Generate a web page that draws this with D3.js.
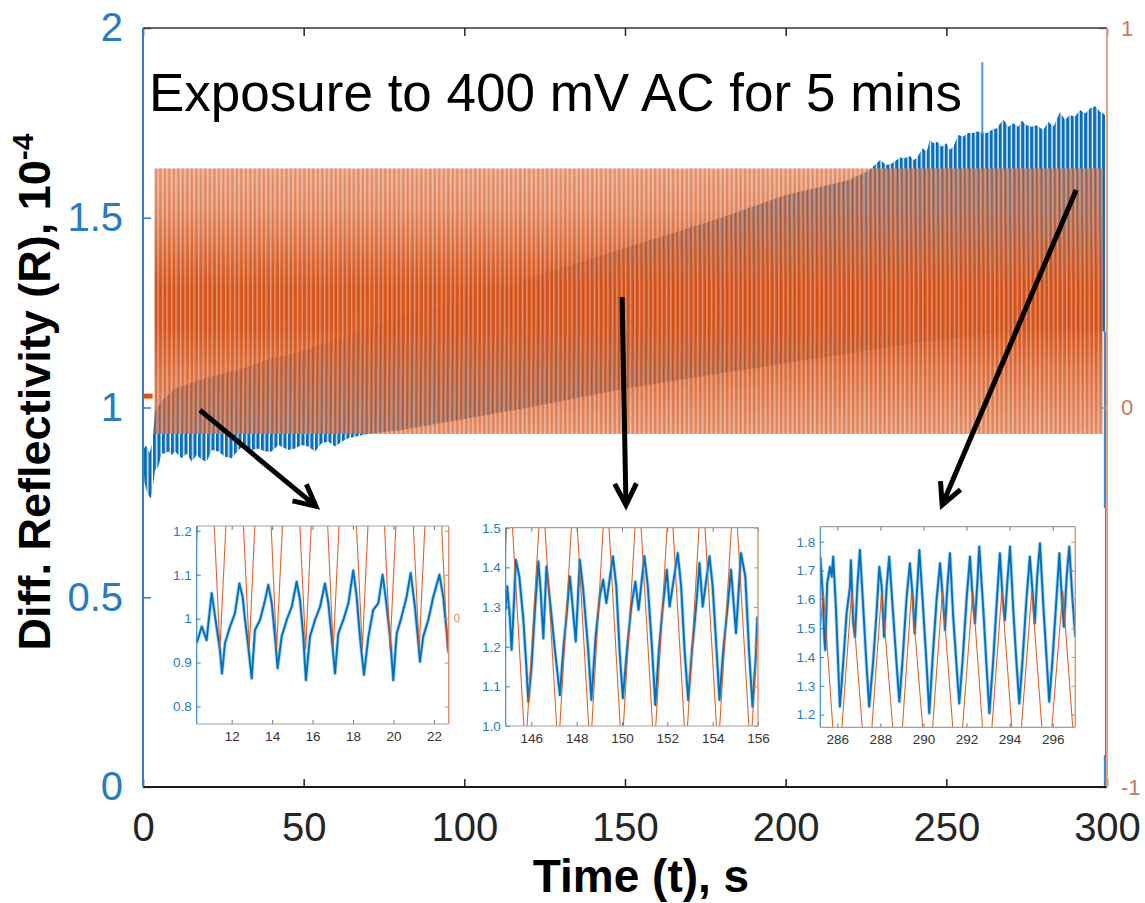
<!DOCTYPE html>
<html>
<head>
<meta charset="utf-8">
<script src="https://cdn.jsdelivr.net/npm/d3@7"></script>
<style>
  body { margin: 0; background: #fff; }
  svg { display: block; font-family: "Liberation Sans", Arial, sans-serif; }
</style>
</head>
<body>
<div id="viz"></div>
<script>
const width = 1145;
const height = 903;

// ---- data ----
const timeTicks = [0, 50, 100, 150, 200, 250, 300];
const reflTicks = [0, 0.5, 1, 1.5, 2];
const driveTicks = [-1, 0, 1];

// blue reflectivity envelope (t [s], R [1e-4])
const blueUpper = [[0,0.89],[1,0.90],[2,0.88],[3,0.91],[3.7,0.99],[6,1.02],[10,1.05],[20,1.08],[30,1.10],[40,1.13],[50,1.15],[60,1.18],[70,1.21],[80,1.24],[90,1.26],[100,1.29],[110,1.31],[120,1.34],[135,1.38],[150,1.42],[165,1.46],[180,1.50],[190,1.53],[200,1.56],[210,1.58],[220,1.60],[226,1.625],[229.4,1.652],[231.4,1.639],[233.0,1.643],[235.6,1.659],[237.1,1.657],[238.7,1.663],[239.7,1.652],[240.8,1.657],[242.6,1.683],[243.9,1.674],[244.9,1.707],[245.9,1.696],[247.2,1.700],[248.5,1.687],[250.1,1.696],[251.1,1.679],[252.2,1.687],[253.7,1.718],[255.3,1.714],[256.8,1.723],[258.4,1.723],[259.4,1.727],[262.6,1.723],[264.1,1.731],[265.7,1.736],[267.7,1.759],[269.3,1.740],[270.8,1.749],[272.4,1.740],[273.4,1.756],[275.0,1.744],[276.6,1.740],[278.1,1.744],[280.2,1.731],[281.7,1.753],[283.3,1.740],[285.4,1.779],[286.9,1.758],[288.5,1.771],[290.0,1.766],[291.6,1.784],[293.2,1.775],[294.7,1.788],[296.3,1.794],[297.8,1.779],[298.9,1.775],[299.4,1.77]];
const blueLower = [[0,0.86],[0.5,0.80],[1.5,0.77],[2.5,0.76],[3.2,0.80],[3.73,0.835],[4.77,0.844],[5.81,0.879],[6.85,0.879],[7.88,0.884],[8.92,0.875],[9.96,0.884],[12.03,0.866],[13.59,0.879],[15.14,0.857],[16.70,0.875],[18.26,0.862],[19.81,0.857],[21.37,0.888],[23.44,0.884],[25.52,0.870],[27.59,0.866],[29.67,0.888],[31.74,0.901],[33.82,0.888],[35.89,0.892],[37.97,0.884],[40.04,0.884],[42.12,0.901],[45.23,0.888],[47.30,0.892],[49.38,0.901],[51.45,0.897],[53.53,0.884],[55.60,0.906],[57.68,0.910],[59.75,0.897],[61.83,0.910],[63.90,0.919],[65.98,0.923],[70,0.93],[80,0.94],[100,0.97],[120,1.0],[150,1.05],[180,1.09],[210,1.13],[240,1.17],[270,1.20],[299.4,1.20]];
const blueSpike = [[261.2, 1.72], [261.2, 1.91]];
const blueEnd = [[299.4, 1.2], [299.4, 0]];

// AC drive (plotted in left-axis units: right axis = R - 1)
const driveIdle = [[0, 1.03], [3.0, 1.03]];
const driveSpan = [3.6, 298.6];
const driveRange = [0.93, 1.63];
const drivePeriod = 1.4;

// zoomed insets: blue trace and drive turning points (trough, peak, trough, ...)
const inset1Blue = [[10.27,0.944],[10.52,0.982],[10.76,0.951],[11.01,1.058],[11.18,1.004],[11.42,0.928],[11.52,0.875],[11.67,0.944],[11.92,0.982],[12.16,1.012],[12.38,1.080],[12.54,1.050],[12.66,0.997],[12.82,0.936],[12.99,0.864],[13.15,0.974],[13.40,0.997],[13.65,1.042],[13.81,1.077],[13.98,1.035],[14.14,0.959],[14.27,0.887],[14.47,0.959],[14.72,0.997],[14.97,1.027],[15.21,1.084],[15.38,1.042],[15.54,0.959],[15.67,0.860],[15.87,0.959],[16.12,0.997],[16.37,1.027],[16.61,1.080],[16.78,1.035],[16.94,0.959],[17.11,0.875],[17.27,0.966],[17.52,0.997],[17.77,1.035],[18.01,1.110],[18.18,1.050],[18.34,0.959],[18.54,0.872],[18.76,0.959],[19.00,1.020],[19.25,1.035],[19.46,1.100],[19.63,1.042],[19.83,0.959],[19.99,0.860],[20.16,0.966],[20.40,1.004],[20.65,1.050],[20.85,1.104],[21.06,1.027],[21.23,0.944],[21.31,0.902],[21.47,0.959],[21.72,0.997],[21.97,1.050],[22.27,1.100],[22.46,1.050],[22.73,0.921]];
const inset1Drive = [10.02, 10.72, 11.42, 12.15, 12.87, 13.55, 14.22, 14.94, 15.66, 16.34, 17.02, 17.74, 18.46, 19.15, 19.83, 20.55, 21.27, 21.97, 22.66, 23.36];

const inset2Blue = [[144.87,1.293],[144.94,1.352],[145.06,1.268],[145.13,1.192],[145.24,1.318],[145.32,1.419],[145.47,1.377],[145.65,1.268],[145.79,1.141],[145.87,1.061],[146.01,1.150],[146.16,1.293],[146.31,1.415],[146.41,1.343],[146.53,1.221],[146.67,1.402],[146.82,1.318],[147.04,1.192],[147.26,1.078],[147.41,1.192],[147.55,1.276],[147.70,1.377],[147.77,1.335],[147.96,1.213],[148.14,1.419],[148.29,1.343],[148.51,1.192],[148.65,1.066],[148.84,1.226],[149.02,1.327],[149.17,1.369],[149.31,1.310],[149.60,1.428],[149.75,1.352],[149.90,1.184],[150.04,1.070],[150.22,1.192],[150.41,1.301],[150.59,1.364],[150.73,1.293],[150.99,1.428],[151.14,1.352],[151.33,1.192],[151.47,1.053],[151.63,1.192],[151.80,1.301],[151.98,1.394],[152.10,1.301],[152.46,1.436],[152.61,1.352],[152.76,1.192],[152.92,1.066],[153.09,1.192],[153.27,1.301],[153.42,1.411],[153.56,1.301],[153.86,1.428],[154.00,1.352],[154.18,1.184],[154.30,1.066],[154.47,1.192],[154.66,1.301],[154.81,1.394],[155.03,1.234],[155.25,1.436],[155.44,1.377],[155.61,1.184],[155.76,1.049],[155.91,1.184],[155.97,1.276]];
const inset2Drive = [144.34, 145.04, 145.74, 146.47, 147.19, 147.90, 148.60, 149.30, 149.99, 150.71, 151.42, 152.12, 152.82, 153.53, 154.24, 154.96, 155.67, 156.37];

const inset3Blue = [[285.21,1.748],[285.32,1.621],[285.40,1.459],[285.44,1.424],[285.53,1.655],[285.66,1.713],[285.74,1.679],[285.81,1.748],[285.94,1.563],[286.05,1.355],[286.12,1.228],[286.25,1.355],[286.43,1.551],[286.59,1.644],[286.63,1.736],[286.74,1.517],[286.82,1.470],[286.93,1.644],[287.05,1.771],[287.21,1.563],[287.36,1.366],[287.48,1.228],[287.67,1.390],[287.83,1.563],[287.95,1.713],[288.06,1.644],[288.17,1.470],[288.29,1.644],[288.41,1.748],[288.60,1.540],[288.75,1.378],[288.88,1.245],[289.03,1.390],[289.22,1.609],[289.37,1.725],[289.50,1.609],[289.59,1.482],[289.71,1.644],[289.81,1.771],[289.99,1.563],[290.15,1.366],[290.27,1.205],[290.42,1.390],[290.61,1.598],[290.77,1.725],[290.92,1.586],[291.00,1.494],[291.11,1.644],[291.23,1.760],[291.38,1.540],[291.54,1.366],[291.66,1.239],[291.82,1.390],[292.00,1.598],[292.16,1.748],[292.28,1.609],[292.39,1.517],[292.50,1.655],[292.59,1.783],[292.78,1.563],[292.93,1.366],[293.06,1.205],[293.24,1.390],[293.40,1.586],[293.55,1.760],[293.67,1.609],[293.78,1.528],[293.89,1.655],[294.02,1.783],[294.17,1.563],[294.32,1.378],[294.45,1.239],[294.60,1.390],[294.79,1.609],[294.94,1.748],[295.07,1.621],[295.17,1.517],[295.28,1.679],[295.41,1.794],[295.56,1.586],[295.72,1.390],[295.84,1.245],[295.99,1.390],[296.18,1.609],[296.31,1.760],[296.41,1.621],[296.52,1.505],[296.65,1.679],[296.77,1.783],[296.92,1.598],[297.05,1.470]];
const inset3Drive = [284.65, 285.35, 286.00, 286.67, 287.39, 288.06, 288.82, 289.45, 290.21, 290.88, 291.59, 292.29, 292.96, 293.64, 294.32, 295.03, 295.72, 296.47, 297.15];

// arrows from the main trace to each inset, in main-axis units
const arrows = [
  [[17.74, 0.993], [53.8, 0.74]],
  [[149.1, 1.291], [150.3, 0.743]],
  [[290.4, 1.573], [248.7, 0.743]]
];

// ---- scales ----
const plot = { left: 143, right: 1107, top: 28, bottom: 787 };
const x = d3.scaleLinear([0, 300], [plot.left, plot.right]);
const y = d3.scaleLinear([0, 2], [plot.bottom, plot.top]);
const yR = d3.scaleLinear([-1, 1], [plot.bottom, plot.top]);

const BLUE = "#0072BD";
const ORANGE = "#D95319";

const svg = d3.select("#viz")
  .append("svg")
  .attr("width", width)
  .attr("height", height);

svg.append("rect").attr("width", width).attr("height", height).attr("fill", "#fff");

const defs = svg.append("defs");
const pw = x(drivePeriod) - x(0);

// stripe textures for the dense oscillations
const bluePat = defs.append("pattern")
  .attr("id", "blueStripes")
  .attr("patternUnits", "userSpaceOnUse")
  .attr("width", pw).attr("height", 10);
bluePat.append("rect").attr("width", pw * 0.62).attr("height", 10).attr("fill", "#0a6db8");
bluePat.append("rect").attr("x", pw * 0.62).attr("width", pw * 0.2).attr("height", 10)
  .attr("fill", "#5aa2da").attr("opacity", 0.8);

const orangePat = defs.append("pattern")
  .attr("id", "orangeStripes")
  .attr("patternUnits", "userSpaceOnUse")
  .attr("width", pw).attr("height", 10);
orangePat.append("rect").attr("x", 0).attr("width", pw * 0.3).attr("height", 10)
  .attr("fill", "#fff").attr("opacity", 0.38);
orangePat.append("rect").attr("x", pw * 0.5).attr("width", pw * 0.25).attr("height", 10)
  .attr("fill", "#a93a08").attr("opacity", 0.25);

const grad = defs.append("linearGradient")
  .attr("id", "driveGrad")
  .attr("gradientUnits", "userSpaceOnUse")
  .attr("x1", 0).attr("x2", 0)
  .attr("y1", y(driveRange[1])).attr("y2", y(driveRange[0]));
[[0, 0.55], [0.16, 0.64], [0.33, 0.85], [0.45, 0.98], [0.6, 0.97], [0.76, 0.8], [1, 0.6]]
  .forEach(([o, a]) => grad.append("stop").attr("offset", o).attr("stop-color", ORANGE).attr("stop-opacity", a));

const line = d3.line().x(d => x(d[0])).y(d => y(d[1]));

// blue reflectivity band
const bandPts = blueUpper.concat(blueLower.slice().reverse());
svg.append("path")
  .attr("d", line(bandPts) + "Z")
  .attr("fill", "url(#blueStripes)");

svg.append("path").attr("d", line(blueSpike))
  .attr("stroke", "#4f9ad4").attr("stroke-width", 2).attr("fill", "none");
svg.append("path").attr("d", line(blueEnd))
  .attr("stroke", "#3d8ccb").attr("stroke-width", 2.5).attr("fill", "none");

// AC drive band
const driveArea = d3.area()
  .x(d => x(d))
  .y0(y(driveRange[0]))
  .y1(y(driveRange[1]));
svg.append("path").attr("d", driveArea(driveSpan)).attr("fill", "url(#driveGrad)");
svg.append("path").attr("d", driveArea(driveSpan)).attr("fill", "url(#orangeStripes)");

svg.append("path").attr("d", line(driveIdle))
  .attr("stroke", ORANGE).attr("stroke-width", 5).attr("fill", "none");

// ---- main axes ----
const xAxis = svg.append("g")
  .attr("transform", `translate(0,${plot.bottom})`)
  .call(d3.axisBottom(x).tickValues(timeTicks).tickSize(-8).tickPadding(26).tickFormat(d3.format("d")));
xAxis.selectAll("text").attr("font-size", 40).attr("fill", "#262626").attr("font-family", "Liberation Sans, Arial");
xAxis.selectAll("line").attr("stroke", "#222").attr("stroke-width", 1.5);

const xTop = svg.append("g")
  .attr("transform", `translate(0,${plot.top})`)
  .call(d3.axisTop(x).tickValues(timeTicks).tickSize(-8).tickFormat(""));
xTop.selectAll("line").attr("stroke", "#222").attr("stroke-width", 1.5);

const yAxis = svg.append("g")
  .attr("transform", `translate(${plot.left},0)`)
  .call(d3.axisLeft(y).tickValues(reflTicks).tickSize(-8).tickPadding(20).tickFormat(d3.format("~g")));
yAxis.selectAll("text").attr("font-size", 40).attr("fill", "#2a7bbd").attr("font-family", "Liberation Sans, Arial");
yAxis.selectAll("line").attr("stroke", "#2a7bbd").attr("stroke-width", 1.5);

const yRAxis = svg.append("g")
  .attr("transform", `translate(${plot.right},0)`)
  .call(d3.axisRight(yR).tickValues(driveTicks).tickSize(-8).tickPadding(14).tickFormat(d => String(d)));
yRAxis.selectAll("text").attr("font-size", 22).attr("fill", "#c97b60").attr("font-family", "Liberation Sans, Arial");
yRAxis.selectAll("line").attr("stroke", "#c98a70").attr("stroke-width", 1.5);

[xAxis, xTop, yAxis, yRAxis].forEach(g => g.select(".domain").remove());

svg.append("line").attr("x1", plot.left).attr("x2", plot.right).attr("y1", plot.top).attr("y2", plot.top)
  .attr("stroke", "#333").attr("stroke-width", 1.5);
svg.append("line").attr("x1", plot.left).attr("x2", plot.right).attr("y1", plot.bottom).attr("y2", plot.bottom)
  .attr("stroke", "#1a1a1a").attr("stroke-width", 2);
svg.append("line").attr("x1", plot.left).attr("x2", plot.left).attr("y1", plot.top).attr("y2", plot.bottom)
  .attr("stroke", "#2f80c2").attr("stroke-width", 2);
svg.append("line").attr("x1", plot.right).attr("x2", plot.right).attr("y1", plot.top).attr("y2", plot.bottom)
  .attr("stroke", "#e2a184").attr("stroke-width", 2);

// ---- insets ----
svg.append("rect")
  .attr("x", 160).attr("y", 508).attr("width", 1105 - 160).attr("height", 755 - 508)
  .attr("fill", "#fff");

const insets = [
  { box: [196.7, 526, 448.7, 724], t: [10.27, 22.73], v: [0.76, 1.211],
    yTicks: [0.8, 0.9, 1, 1.1, 1.2], fmt: d3.format("~g"), xTicks: [12, 14, 16, 18, 20, 22],
    blue: inset1Blue, drive: inset1Drive, zero: true },
  { box: [505.7, 527.7, 758, 726], t: [144.87, 156.0], v: [1.0, 1.5],
    yTicks: [1.0, 1.1, 1.2, 1.3, 1.4, 1.5], fmt: d3.format(".1f"), xTicks: [146, 148, 150, 152, 154, 156],
    blue: inset2Blue, drive: inset2Drive, zero: false },
  { box: [820.3, 526.7, 1075.3, 727.3], t: [285.21, 297.05], v: [1.156, 1.852],
    yTicks: [1.2, 1.3, 1.4, 1.5, 1.6, 1.7, 1.8], fmt: d3.format(".1f"), xTicks: [286, 288, 290, 292, 294, 296],
    blue: inset3Blue, drive: inset3Drive, zero: false }
];

insets.forEach((ins, i) => {
  const [x0, y0, x1, y1] = ins.box;
  const xi = d3.scaleLinear(ins.t, [x0, x1]);
  const yi = d3.scaleLinear(ins.v, [y1, y0]);
  const g = svg.append("g");

  defs.append("clipPath").attr("id", `clip${i}`)
    .append("rect").attr("x", x0).attr("y", y0).attr("width", x1 - x0).attr("height", y1 - y0);

  const li = d3.line().x(d => xi(d[0])).y(d => yi(d[1]));
  const drivePts = ins.drive.map((t, k) => [t, k % 2 === 0 ? driveRange[0] : driveRange[1]]);

  const data = g.append("g").attr("clip-path", `url(#clip${i})`);
  data.append("path").attr("d", li(ins.blue))
    .attr("fill", "none").attr("stroke", "#6aa9dc").attr("stroke-width", 3.6)
    .attr("stroke-linejoin", "round").attr("opacity", 0.55);
  data.append("path").attr("d", li(ins.blue))
    .attr("fill", "none").attr("stroke", BLUE).attr("stroke-width", 1.9)
    .attr("stroke-linejoin", "round");
  data.append("path").attr("d", li(drivePts))
    .attr("fill", "none").attr("stroke", ORANGE).attr("stroke-width", 1.1).attr("opacity", 0.9);

  const ya = g.append("g").attr("transform", `translate(${x0},0)`)
    .call(d3.axisLeft(yi).tickValues(ins.yTicks).tickSize(-4).tickPadding(5).tickFormat(ins.fmt));
  ya.selectAll("text").attr("font-size", 13.5).attr("fill", "#2a7bbd").attr("font-family", "Liberation Sans, Arial");
  ya.selectAll("line").attr("stroke", "#2a7bbd");

  const yr = g.append("g").attr("transform", `translate(${x1},0)`)
    .call(d3.axisRight(yi).tickValues(ins.yTicks).tickSize(-4).tickFormat(""));
  yr.selectAll("line").attr("stroke", "#999");

  const xa = g.append("g").attr("transform", `translate(0,${y1})`)
    .call(d3.axisBottom(xi).tickValues(ins.xTicks).tickSize(-4).tickPadding(7).tickFormat(d3.format("d")));
  xa.selectAll("text").attr("font-size", 13.5).attr("fill", "#333").attr("font-family", "Liberation Sans, Arial");
  xa.selectAll("line").attr("stroke", "#777");

  const xt = g.append("g").attr("transform", `translate(0,${y0})`)
    .call(d3.axisTop(xi).tickValues(ins.xTicks).tickSize(-4).tickFormat(""));
  xt.selectAll("line").attr("stroke", "#777");

  [ya, yr, xa, xt].forEach(a => a.select(".domain").remove());

  g.append("line").attr("x1", x0).attr("x2", x1).attr("y1", y0).attr("y2", y0).attr("stroke", "#a0a0a0").attr("stroke-width", 1.2);
  g.append("line").attr("x1", x0).attr("x2", x1).attr("y1", y1).attr("y2", y1).attr("stroke", "#a0a0a0").attr("stroke-width", 1.2);
  g.append("line").attr("x1", x0).attr("x2", x0).attr("y1", y0).attr("y2", y1).attr("stroke", "#3a8ccb").attr("stroke-width", 1.2);
  g.append("line").attr("x1", x1).attr("x2", x1).attr("y1", y0).attr("y2", y1).attr("stroke", "#e0906c").attr("stroke-width", 1.4);

  if (ins.zero) {
    g.append("text").attr("x", x1 + 5).attr("y", yi(1)).attr("dy", "0.35em")
      .attr("font-size", 11).attr("fill", "#d9825e").text("0");
  }
});

// ---- annotation arrows ----
arrows.forEach(([a, b]) => {
  const [xa, ya] = [x(a[0]), y(a[1])];
  const [xb, yb] = [x(b[0]), y(b[1])];
  const ang = Math.atan2(yb - ya, xb - xa);
  const head = 24, spread = 27 * Math.PI / 180;
  const g = svg.append("g").attr("stroke", "#000").attr("stroke-width", 5)
    .attr("stroke-linecap", "butt").attr("fill", "none");
  g.append("line").attr("x1", xa).attr("y1", ya).attr("x2", xb).attr("y2", yb);
  g.append("path")
    .attr("stroke-linejoin", "miter")
    .attr("d", `M${xb - head * Math.cos(ang - spread)},${yb - head * Math.sin(ang - spread)}L${xb},${yb}L${xb - head * Math.cos(ang + spread)},${yb - head * Math.sin(ang + spread)}`);
});

// ---- text ----
svg.append("text")
  .attr("x", 149).attr("y", 111)
  .attr("font-size", 53).attr("fill", "#000")
  .text("Exposure to 400 mV AC for 5 mins");

svg.append("text")
  .attr("x", 641).attr("y", 892)
  .attr("text-anchor", "middle")
  .attr("font-size", 46).attr("font-weight", "bold").attr("fill", "#000")
  .text("Time (t), s");

const yTitle = svg.append("text")
  .attr("transform", "translate(50,392) rotate(-90)")
  .attr("text-anchor", "middle")
  .attr("font-size", 45).attr("font-weight", "bold").attr("fill", "#000");
yTitle.append("tspan").text("Diff. Reflectivity (R), 10");
yTitle.append("tspan").attr("dy", -17).attr("font-size", 30).text("-4");
</script>
</body>
</html>
